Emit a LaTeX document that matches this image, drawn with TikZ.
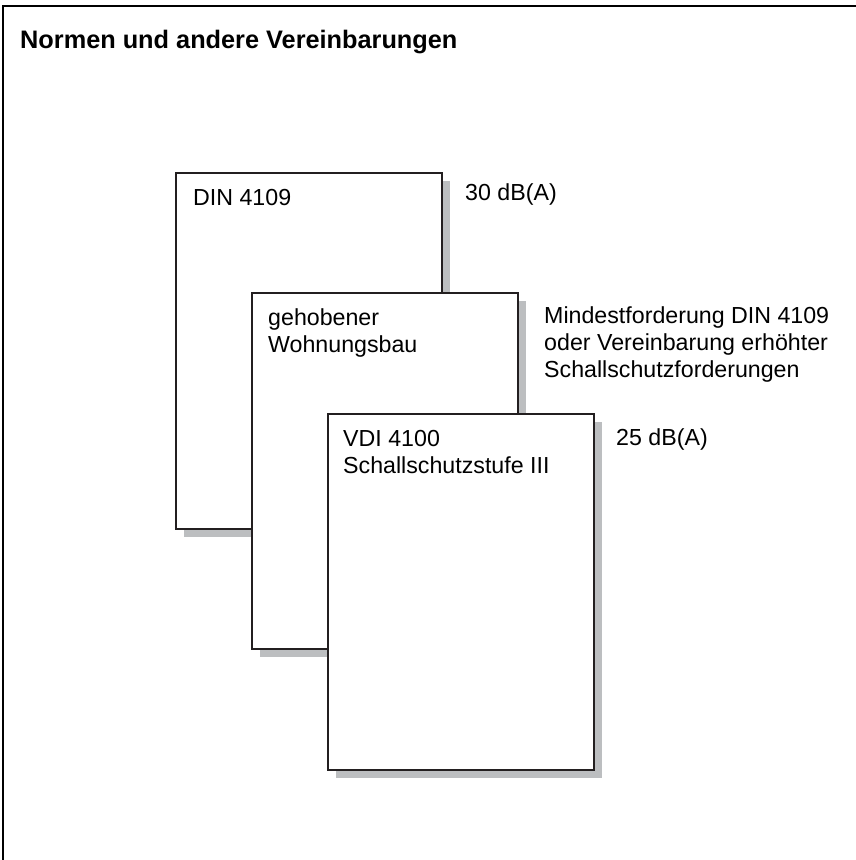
\documentclass[tikz,border=0pt]{standalone}
\usepackage{fontspec}
\setmainfont{Liberation Sans}
\usetikzlibrary{shadows}
\definecolor{shadowgray}{HTML}{BCBEC0}
\definecolor{inkline}{HTML}{231F20}
\begin{document}
\begin{tikzpicture}[x=1pt,y=-1pt,
  paper/.style={draw=inkline, line width=2pt, fill=white, rectangle,
    minimum width=266pt, minimum height=356pt, anchor=north west, inner sep=0pt,
    drop shadow={shadow xshift=8pt, shadow yshift=-8pt, fill=shadowgray, opacity=1}},
  label/.style={anchor=base west, inner sep=0pt, align=left,
    font=\fontsize{23.2}{27}\selectfont},
  titletext/.style={anchor=base west, inner sep=0pt,
    font=\fontsize{25.3}{27}\selectfont\bfseries}]
\useasboundingbox (0,0) rectangle (855,860);
\draw[line width=2pt] (3,880) -- (3,6) -- (880,6);
\node[titletext] (title) at (20,48) {Normen und andere Vereinbarungen};
\node[paper] (b1) at (175,172) {};
\node[paper] (b2) at (251,292) {};
\node[paper] (b3) at (327,413) {};
\node[label] (t1) at (193,205) {DIN 4109};
\node[label] (t2) at (268,352) {gehobener\\Wohnungsbau};
\node[label] (t3) at (343,473) {VDI 4100\\Schallschutzstufe III};
\node[label] (l1) at (465,200) {30 dB(A)};
\node[label] (l2) at (544,377) {Mindestforderung DIN 4109\\oder Vereinbarung erhöhter\\Schallschutzforderungen};
\node[label] (l3) at (616,445) {25 dB(A)};
\end{tikzpicture}
\end{document}
